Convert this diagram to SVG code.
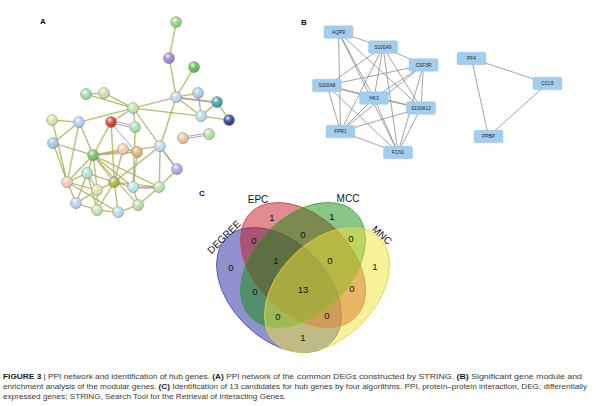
<svg xmlns="http://www.w3.org/2000/svg" xmlns:xlink="http://www.w3.org/1999/xlink" width="600" height="406" viewBox="0 0 600 406">
<style>
text{font-family:"Liberation Sans",Arial,sans-serif}
.lbl{font-weight:bold;font-size:8px;fill:#111}
.ea{fill:none;stroke:#c2c65a;stroke-width:1.1}
.eb{fill:none;stroke:#8a8a8a;stroke-width:0.35}
.ep{fill:none;stroke:#7d5bb5;stroke-width:0.6}
.sn{stroke:#8a8a8a;stroke-width:0.5}
.bn rect{fill:#a3cdef;stroke:#8fc0e6;stroke-width:0.4}
.bn text{font-size:4.8px;fill:#222;text-anchor:middle}
.be{fill:none;stroke:#858585;stroke-width:0.75}
.v{stroke-width:0.8;fill-opacity:0.5}
.num{font-size:9.5px;fill:#111;text-anchor:middle}
.set{font-size:10px;fill:#111;text-anchor:middle}
.cap{font-size:8px;fill:#3a3a3a}
.cap tspan.b{font-weight:bold;fill:#1a1a1a}
</style>
<defs>
<radialGradient id="gloss" cx="0.38" cy="0.32" r="0.68">
<stop offset="0" stop-color="#fff" stop-opacity="0.9"/>
<stop offset="0.4" stop-color="#fff" stop-opacity="0.2"/>
<stop offset="0.8" stop-color="#fff" stop-opacity="0"/>
<stop offset="1" stop-color="#000" stop-opacity="0.18"/>
</radialGradient>
<path id="aedges" d="M176 22L169 58M169 58L176 97M194 67L176 97M198 93L176 97M198 93L201 116M176 97L201 116M176 97L217 102M217 102L201 116M217 102L229 120M201 116L229 120M176 97L133 108M133 108L201 116M176 97L160 146M86 94L133 108M104 93L133 108M86 94L104 93M133 108L79 122M133 108L135 127M133 108L111 122M52 120L79 122M52 120L67 182M79 122L53 143M79 122L93 155M79 122L67 182M53 143L93 155M53 143L67 182M111 122L93 155M111 122L114 182M135 127L133 187M160 146L177 169M160 146L159 187M160 146L93 155M160 146L114 182M123 149L137 152M123 149L93 155M123 149L114 182M137 152L93 155M137 152L133 187M93 155L87 173M93 155L67 182M93 155L114 182M93 155L133 187M93 155L159 187M93 155L97 190M177 169L159 187M87 173L67 182M87 173L114 182M87 173L97 190M67 182L97 190M67 182L76 203M114 182L133 187M114 182L159 187M114 182L97 190M114 182L97 210M114 182L118 212M133 187L159 187M133 187L138 205M159 187L138 205M97 190L76 203M97 190L97 210M76 203L97 210M97 210L118 212M118 212L138 205M87 173L76 203M87 173L97 210M133 108L160 146M67 182L118 212M93 155L138 205"/>
</defs>

<!-- Panel A -->
<text class="lbl" x="40" y="24">A</text>
<g id="a-connectors">
<use xlink:href="#aedges" href="#aedges" class="ea"/>
<use xlink:href="#aedges" href="#aedges" class="eb" transform="translate(0.7,0.5)"/>
<path class="ep" d="M111 123L135 128M111 123L137 153M112 121L136 126M183 139L209 135M183 137L209 133M177 98L217 103M160 147L177 170M133 188L159 188"/>
</g>
<g id="a-nodes">
<g id="a-n1"><circle class="sn" cx="176" cy="22" r="5.5" fill="#8fd07a"/><circle cx="176" cy="22" r="5.5" fill="url(#gloss)"/></g>
<g id="a-n2"><circle class="sn" cx="169" cy="58" r="5.5" fill="#9a7fd0"/><circle cx="169" cy="58" r="5.5" fill="url(#gloss)"/></g>
<g id="a-n3"><circle class="sn" cx="194" cy="67" r="5.5" fill="#5cb84a"/><circle cx="194" cy="67" r="5.5" fill="url(#gloss)"/></g>
<g id="a-n4"><circle class="sn" cx="198" cy="93" r="5.5" fill="#a4c9e0"/><circle cx="198" cy="93" r="5.5" fill="url(#gloss)"/></g>
<g id="a-n5"><circle class="sn" cx="176" cy="97" r="5.5" fill="#b0d6e4"/><circle cx="176" cy="97" r="5.5" fill="url(#gloss)"/></g>
<g id="a-n6"><circle class="sn" cx="217" cy="102" r="5.5" fill="#3a9f9a"/><circle cx="217" cy="102" r="5.5" fill="url(#gloss)"/></g>
<g id="a-n7"><circle class="sn" cx="86" cy="94" r="5.5" fill="#9fd8a0"/><circle cx="86" cy="94" r="5.5" fill="url(#gloss)"/></g>
<g id="a-n8"><circle class="sn" cx="104" cy="93" r="5.5" fill="#d6d69a"/><circle cx="104" cy="93" r="5.5" fill="url(#gloss)"/></g>
<g id="a-n9"><circle class="sn" cx="133" cy="108" r="5.5" fill="#b8e0a0"/><circle cx="133" cy="108" r="5.5" fill="url(#gloss)"/></g>
<g id="a-n10"><circle class="sn" cx="201" cy="116" r="5.5" fill="#b5d9e8"/><circle cx="201" cy="116" r="5.5" fill="url(#gloss)"/></g>
<g id="a-n11"><circle class="sn" cx="229" cy="120" r="5.5" fill="#2c3e8c"/><circle cx="229" cy="120" r="5.5" fill="url(#gloss)"/></g>
<g id="a-n12"><circle class="sn" cx="52" cy="120" r="5.5" fill="#cfe3a0"/><circle cx="52" cy="120" r="5.5" fill="url(#gloss)"/></g>
<g id="a-n13"><circle class="sn" cx="79" cy="122" r="5.5" fill="#a9cdea"/><circle cx="79" cy="122" r="5.5" fill="url(#gloss)"/></g>
<g id="a-n14"><circle class="sn" cx="111" cy="122" r="5.5" fill="#d23a2a"/><circle cx="111" cy="122" r="5.5" fill="url(#gloss)"/></g>
<g id="a-n15"><circle class="sn" cx="135" cy="127" r="5.5" fill="#a8dca8"/><circle cx="135" cy="127" r="5.5" fill="url(#gloss)"/></g>
<g id="a-n16"><circle class="sn" cx="183" cy="138" r="5.5" fill="#e6bf98"/><circle cx="183" cy="138" r="5.5" fill="url(#gloss)"/></g>
<g id="a-n17"><circle class="sn" cx="209" cy="134" r="5.5" fill="#aedf9e"/><circle cx="209" cy="134" r="5.5" fill="url(#gloss)"/></g>
<g id="a-n18"><circle class="sn" cx="53" cy="143" r="5.5" fill="#9ec3e8"/><circle cx="53" cy="143" r="5.5" fill="url(#gloss)"/></g>
<g id="a-n19"><circle class="sn" cx="160" cy="146" r="5.5" fill="#b8d8ea"/><circle cx="160" cy="146" r="5.5" fill="url(#gloss)"/></g>
<g id="a-n20"><circle class="sn" cx="123" cy="149" r="5.5" fill="#f0c8a0"/><circle cx="123" cy="149" r="5.5" fill="url(#gloss)"/></g>
<g id="a-n21"><circle class="sn" cx="137" cy="152" r="5.5" fill="#e0b070"/><circle cx="137" cy="152" r="5.5" fill="url(#gloss)"/></g>
<g id="a-n22"><circle class="sn" cx="93" cy="155" r="5.5" fill="#6cc060"/><circle cx="93" cy="155" r="5.5" fill="url(#gloss)"/></g>
<g id="a-n23"><circle class="sn" cx="177" cy="169" r="5.5" fill="#a4a4e0"/><circle cx="177" cy="169" r="5.5" fill="url(#gloss)"/></g>
<g id="a-n24"><circle class="sn" cx="87" cy="173" r="5.5" fill="#a8e0d0"/><circle cx="87" cy="173" r="5.5" fill="url(#gloss)"/></g>
<g id="a-n25"><circle class="sn" cx="67" cy="182" r="5.5" fill="#f0c8a8"/><circle cx="67" cy="182" r="5.5" fill="url(#gloss)"/></g>
<g id="a-n26"><circle class="sn" cx="114" cy="182" r="5.5" fill="#a8b040"/><circle cx="114" cy="182" r="5.5" fill="url(#gloss)"/></g>
<g id="a-n27"><circle class="sn" cx="133" cy="187" r="5.5" fill="#b8e0e8"/><circle cx="133" cy="187" r="5.5" fill="url(#gloss)"/></g>
<g id="a-n28"><circle class="sn" cx="159" cy="187" r="5.5" fill="#b8e0b0"/><circle cx="159" cy="187" r="5.5" fill="url(#gloss)"/></g>
<g id="a-n29"><circle class="sn" cx="97" cy="190" r="5.5" fill="#e0e0a0"/><circle cx="97" cy="190" r="5.5" fill="url(#gloss)"/></g>
<g id="a-n30"><circle class="sn" cx="76" cy="203" r="5.5" fill="#b0d0e8"/><circle cx="76" cy="203" r="5.5" fill="url(#gloss)"/></g>
<g id="a-n31"><circle class="sn" cx="97" cy="210" r="5.5" fill="#c0e0b0"/><circle cx="97" cy="210" r="5.5" fill="url(#gloss)"/></g>
<g id="a-n32"><circle class="sn" cx="118" cy="212" r="5.5" fill="#b0d8e8"/><circle cx="118" cy="212" r="5.5" fill="url(#gloss)"/></g>
<g id="a-n33"><circle class="sn" cx="138" cy="205" r="5.5" fill="#b0dca0"/><circle cx="138" cy="205" r="5.5" fill="url(#gloss)"/></g>
</g>

<!-- Panel B -->
<text class="lbl" x="301" y="25">B</text>
<g id="b-connectors" class="be">
<path d="M338.5 32L383 47M338.5 32L374 98M338.5 32L421 108M338.5 32L340.5 131.5M338.5 32L398 152.5M383 47L423.5 65M383 47L327 85.5M383 47L374 98M383 47L421 108M383 47L340.5 131.5M383 47L398 152.5M423.5 65L327 85.5M423.5 65L374 98M423.5 65L421 108M423.5 65L340.5 131.5M423.5 65L398 152.5M327 85.5L374 98M327 85.5L421 108M327 85.5L340.5 131.5M327 85.5L398 152.5M374 98L421 108M374 98L340.5 131.5M374 98L398 152.5M421 108L340.5 131.5M421 108L398 152.5M340.5 131.5L398 152.5"/>
<path d="M471.5 58.5L547.5 83.5M471.5 58.5L488.5 136.5M547.5 83.5L488.5 136.5"/>
</g>
<g id="b-AQP9" class="bn"><rect x="324" y="25.8" width="29" height="12.5" rx="1.5"/><text x="338.5" y="33.7">AQP9</text></g>
<g id="b-S100A9" class="bn"><rect x="368.5" y="40.8" width="29" height="12.5" rx="1.5"/><text x="383" y="48.7">S100A9</text></g>
<g id="b-CSF3R" class="bn"><rect x="409" y="58.8" width="29" height="12.5" rx="1.5"/><text x="423.5" y="66.7">CSF3R</text></g>
<g id="b-S100A8" class="bn"><rect x="312.5" y="79.3" width="29" height="12.5" rx="1.5"/><text x="327" y="87.2">S100A8</text></g>
<g id="b-HK3" class="bn"><rect x="359.5" y="91.8" width="29" height="12.5" rx="1.5"/><text x="374" y="99.7">HK3</text></g>
<g id="b-S100A12" class="bn"><rect x="406.5" y="101.8" width="29" height="12.5" rx="1.5"/><text x="421" y="109.7">S100A12</text></g>
<g id="b-FPR1" class="bn"><rect x="326" y="125.3" width="29" height="12.5" rx="1.5"/><text x="340.5" y="133.2">FPR1</text></g>
<g id="b-FCN1" class="bn"><rect x="383.5" y="146.3" width="29" height="12.5" rx="1.5"/><text x="398" y="154.2">FCN1</text></g>
<g id="b-PF4" class="bn"><rect x="457" y="52.3" width="29" height="12.5" rx="1.5"/><text x="471.5" y="60.2">PF4</text></g>
<g id="b-CCL5" class="bn"><rect x="533" y="77.3" width="29" height="12.5" rx="1.5"/><text x="547.5" y="85.2">CCL5</text></g>
<g id="b-PPBP" class="bn"><rect x="474" y="130.3" width="29" height="12.5" rx="1.5"/><text x="488.5" y="138.2">PPBP</text></g>

<!-- Panel C -->
<text class="lbl" x="199" y="196">C</text>
<g id="c-venn">
<g id="c-DEGREE"><ellipse class="v" cx="279" cy="290" rx="74" ry="48.4" transform="rotate(45 279 290)" fill="#1f269e" stroke="#4a4fb0"/></g>
<g id="c-EPC"><ellipse class="v" cx="303" cy="265" rx="74" ry="48.4" transform="rotate(45 303 265)" fill="#c4161f" stroke="#d0404a"/></g>
<g id="c-MCC"><ellipse class="v" cx="303" cy="265" rx="74" ry="48.4" transform="rotate(-45 303 265)" fill="#178a10" stroke="#3f9f3a"/></g>
<g id="c-MNC"><ellipse class="v" cx="327" cy="290" rx="74" ry="48.4" transform="rotate(-45 327 290)" fill="#efe339" stroke="#e2d43a"/></g>
</g>
<g id="c-labels">
<text class="set" x="258" y="203">EPC</text>
<text class="set" x="348" y="202">MCC</text>
<text class="set" transform="translate(224,237) rotate(-45)" y="3.5">DEGREE</text>
<text class="set" transform="translate(382,235) rotate(42)" y="3.5">MNC</text>
<text class="num" x="272" y="221">1</text>
<text class="num" x="254" y="244">0</text>
<text class="num" x="276" y="264">1</text>
<text class="num" x="231" y="271">0</text>
<text class="num" x="255" y="295">0</text>
<text class="num" x="278" y="320">0</text>
<text class="num" x="332" y="220">1</text>
<text class="num" x="303" y="238">0</text>
<text class="num" x="351" y="242">0</text>
<text class="num" x="330" y="264">0</text>
<text class="num" x="375" y="270">1</text>
<text class="num" x="303" y="293">13</text>
<text class="num" x="352" y="292">0</text>
<text class="num" x="327" y="319">0</text>
<text class="num" x="303" y="341">1</text>
</g>

<!-- Caption -->
<g id="caption">
<text class="cap" x="3" y="379" textLength="291" lengthAdjust="spacingAndGlyphs"><tspan class="b">FIGURE 3</tspan> | PPI network and identification of hub genes. <tspan class="b">(A)</tspan> PPI network of the</text>
<text class="cap" x="297" y="379" textLength="285" lengthAdjust="spacingAndGlyphs">common DEGs constructed by STRING. <tspan class="b">(B)</tspan> Significant gene module and</text>
<text class="cap" x="3" y="389" textLength="289" lengthAdjust="spacingAndGlyphs">enrichment analysis of the modular genes. <tspan class="b">(C)</tspan> Identification of 13 candidates for</text>
<text class="cap" x="294.5" y="389" textLength="292.5" lengthAdjust="spacingAndGlyphs">hub genes by four algorithms. PPI, protein–protein interaction, DEG; differentially</text>
<text class="cap" x="3" y="399" textLength="283" lengthAdjust="spacingAndGlyphs">expressed genes; STRING, Search Tool for the Retrieval of Interacting Genes.</text>
</g>
</svg>
